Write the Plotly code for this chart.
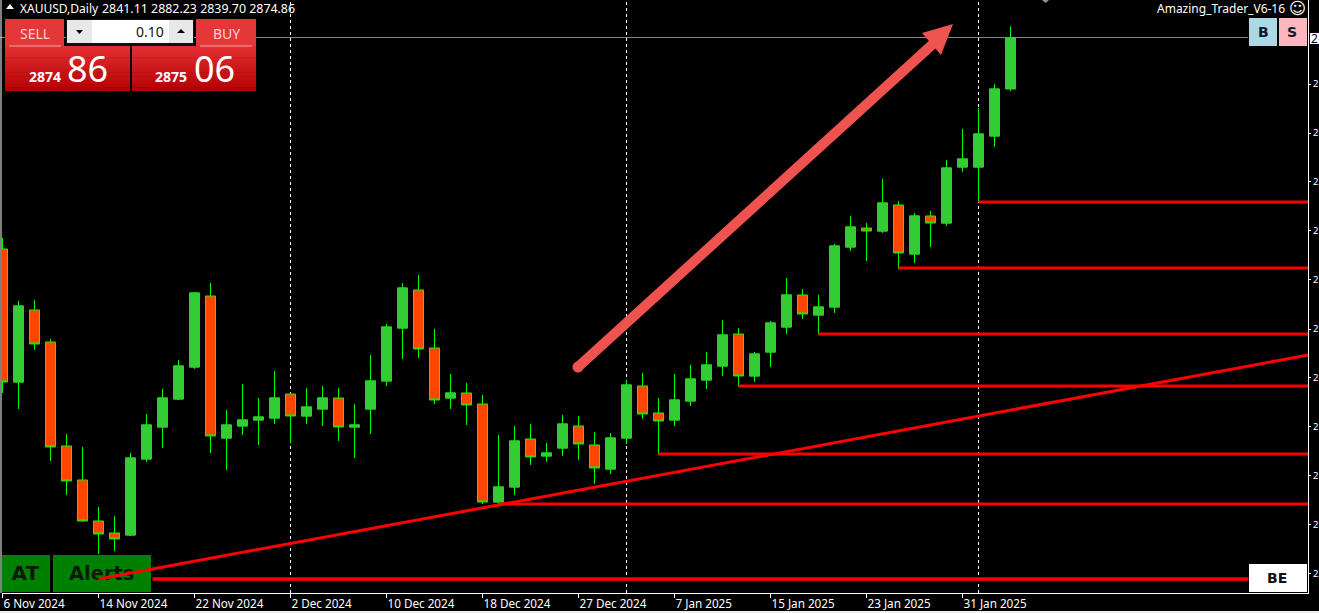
import plotly.graph_objects as go

date_labels = ["6 Nov 2024", "14 Nov 2024", "22 Nov 2024", "2 Dec 2024", "10 Dec 2024", "18 Dec 2024",
               "27 Dec 2024", "7 Jan 2025", "15 Jan 2025", "23 Jan 2025", "31 Jan 2025"]
label_bars = [0, 6, 12, 18, 24, 30, 36, 42, 48, 54, 60]
separator_bars = [18, 39, 61]

opens = [2735.69,2648.18,2695.56,2674.50,2606.07,2583.70,2556.72,2548.82,2547.51,2597.51,2618.57,2636.99,2658.05,2704.77,2611.33,2619.23,
         2623.18,2624.49,2640.28,2625.81,2630.41,2637.65,2618.57,2630.41,2648.84,2683.71,2708.72,2670.55,2637.65,2640.94,2633.70,2569.22,
         2579.09,2610.67,2599.49,2604.75,2619.23,2606.73,2590.93,2611.33,2645.55,2627.78,2623.18,2635.68,2649.50,2658.71,2679.76,2652.13,
         2667.92,2684.37,2705.43,2692.27,2697.53,2737.01,2749.51,2747.54,2764.65,2732.40,2757.41,2752.80,2789.65,2789.65,2810.05,2841.11]
highs = [2742.93,2701.48,2702.14,2676.47,2613.96,2605.41,2565.93,2560.01,2601.46,2627.12,2643.57,2662.66,2707.40,2713.32,2629.76,2646.86,
         2637.65,2655.42,2640.94,2644.23,2645.55,2644.23,2633.70,2665.95,2686.34,2713.32,2718.59,2683.05,2653.44,2647.52,2639.63,2613.31,
         2619.23,2620.54,2608.04,2626.47,2625.81,2615.28,2614.62,2649.50,2654.10,2637.65,2653.44,2659.37,2667.92,2688.98,2683.71,2667.92,
         2688.32,2716.61,2709.37,2705.43,2738.98,2757.41,2752.80,2781.75,2767.28,2759.38,2760.70,2794.26,2814.65,2828.47,2844.26,2882.23]
lows = [2640.94,2630.41,2669.24,2596.20,2573.83,2556.06,2535.00,2536.98,2546.85,2595.54,2604.75,2636.34,2656.73,2601.46,2590.28,2613.31,
        2606.73,2620.54,2608.04,2620.54,2619.23,2609.36,2598.17,2613.96,2645.55,2663.31,2663.97,2633.70,2630.41,2619.89,2567.90,2567.90,
        2573.83,2593.57,2595.54,2599.49,2596.86,2581.06,2587.64,2607.38,2623.83,2600.15,2619.23,2632.39,2643.57,2652.13,2644.89,2648.18,
        2658.05,2679.76,2689.63,2679.11,2693.58,2734.38,2727.80,2746.22,2722.53,2726.48,2737.01,2750.83,2786.36,2766.62,2802.81,2839.70]
closes = [2648.18,2698.19,2673.18,2605.41,2583.04,2556.72,2548.16,2544.87,2598.17,2619.89,2637.65,2658.71,2706.74,2612.65,2619.89,2623.18,
          2625.15,2637.65,2625.81,2631.73,2637.65,2618.57,2619.89,2648.84,2684.37,2710.03,2669.89,2636.34,2640.94,2633.05,2569.22,2579.09,
          2609.36,2598.83,2601.46,2620.54,2607.38,2591.59,2611.33,2646.21,2627.12,2622.52,2636.34,2650.15,2659.37,2679.11,2652.13,2666.60,
          2687.00,2705.43,2692.92,2697.53,2737.67,2750.17,2747.54,2765.96,2733.06,2757.41,2752.80,2788.99,2794.91,2811.36,2840.97,2874.86]

level_bars = [61, 56, 51, 46, 41, 31]
level_prices = [2766.62, 2723.19, 2679.76, 2645.55, 2600.80, 2567.90]
be_price = 2518.55
trend_bars = [6, 81.625]
trend_prices = [2518.55, 2665.95]
axis_prices = [2844.26, 2812.02, 2779.78, 2747.54, 2715.30, 2683.05, 2650.81, 2618.57, 2586.33, 2554.09, 2521.84]
last_price = 2874.86

bars = list(range(len(opens)))
W, H = 1319, 613
L, R, B = 2, 1308, 593
SANS = "Noto Sans"

def px(x):
    return (x - L) / (R - L)

def py(y):
    return 1 - y / B

shapes, notes = [], []

def rect(x0, y0, x1, y1, fill, line=None, layer="above", lw=1):
    shapes.append(dict(type="rect", xref="paper", yref="paper", x0=px(x0), x1=px(x1), y0=py(y0), y1=py(y1),
                       fillcolor=fill, layer=layer, line=dict(color=line or fill, width=lw if line else 0)))

def poly(points, fill, layer="above"):
    d = "M " + " L ".join(f"{px(a):.5f},{py(b):.5f}" for a, b in points) + " Z"
    shapes.append(dict(type="path", xref="paper", yref="paper", path=d, fillcolor=fill, layer=layer, line=dict(width=0)))

def text(x, y, s, size, color="white", anchor="center", family=SANS, bold=False):
    notes.append(dict(xref="paper", yref="paper", x=px(x), y=py(y), text=f"<b>{s}</b>" if bold else s, showarrow=False,
                      xanchor=anchor, yanchor="middle", font=dict(family=family, size=size, color=color),
                      borderpad=0, borderwidth=0))

def hline(x0, x1, y, color, width=1):
    shapes.append(dict(type="line", xref="paper", yref="paper", x0=px(x0), x1=px(x1), y0=py(y), y1=py(y),
                       layer="above", line=dict(color=color, width=width)))

# period separators, current price line, lower-left panels (under the candles)
for b in separator_bars:
    shapes.append(dict(type="line", xref="x", yref="paper", x0=b, x1=b, y0=0, y1=1, layer="below",
                       line=dict(color="white", width=1, dash="3px,3px")))
shapes.append(dict(type="line", xref="paper", yref="y", x0=px(0), x1=px(1248), y0=last_price, y1=last_price,
                   layer="below", line=dict(color="#7f8791", width=1)))
rect(2, 555, 50, 592, "#008000", layer="below")
rect(53, 555, 151, 592, "#008000", layer="below")

fig = go.Figure()
# full candles: wicks and outlines
fig.add_trace(go.Candlestick(x=bars, open=opens, high=highs, low=lows, close=closes,
                             increasing=dict(line=dict(color="#00FF00", width=1), fillcolor="#32CD32"),
                             decreasing=dict(line=dict(color="#00FF00", width=1), fillcolor="#FF4500"),
                             whiskerwidth=0, hoverinfo="skip", showlegend=False))
# rising bodies drawn again, without the bright outline
up_o = [o if c >= o else None for o, c in zip(opens, closes)]
up_c = [c if c >= o else None for o, c in zip(opens, closes)]
fig.add_trace(go.Candlestick(x=bars, open=up_o, high=up_c, low=up_o, close=up_c,
                             increasing=dict(line=dict(color="#32CD32", width=1), fillcolor="#32CD32"),
                             decreasing=dict(line=dict(color="#32CD32", width=1), fillcolor="#32CD32"),
                             whiskerwidth=0, hoverinfo="skip", showlegend=False))

# panel captions sit under the trend line
fig.add_trace(go.Scatter(x=[1.43], y=[be_price + 2.4], mode="text", text=["<b>AT</b>"],
                         textfont=dict(family="DejaVu Sans", size=20, color="#0a1a0a"),
                         hoverinfo="skip", showlegend=False))
fig.add_trace(go.Scatter(x=[6.2], y=[be_price + 2.4], mode="text", text=["<b>Alerts</b>"],
                         textfont=dict(family="DejaVu Sans", size=19.5, color="#0a1a0a"),
                         hoverinfo="skip", showlegend=False))

for b, p in zip(level_bars, level_prices):
    fig.add_trace(go.Scatter(x=[b, 81.625], y=[p, p], mode="lines", line=dict(color="#FF0000", width=3),
                             hoverinfo="skip", showlegend=False))
fig.add_trace(go.Scatter(x=[9.375, 77.875], y=[be_price, be_price], mode="lines", line=dict(color="#FF0000", width=3.5),
                         hoverinfo="skip", showlegend=False))
fig.add_trace(go.Scatter(x=trend_bars, y=trend_prices, mode="lines", line=dict(color="#FF0000", width=3),
                         hoverinfo="skip", showlegend=False))

# arrow
ARROW = "#EF5350"
shapes.append(dict(type="line", xref="paper", yref="paper", x0=px(578), y0=py(367), x1=px(934), y1=py(43),
                   layer="above", line=dict(color=ARROW, width=10)))
shapes.append(dict(type="circle", xref="paper", yref="paper", x0=px(572.5), x1=px(583.5), y0=py(361.5), y1=py(372.5),
                   layer="above", fillcolor=ARROW, line=dict(width=0)))
poly([(953, 24), (922, 33), (941, 55)], ARROW)

# header
poly([(6, 9), (14, 9), (10, 4)], "white")
text(20, 8.4, "XAUUSD,Daily", 12, anchor="left")
text(102, 8.6, "2841.11 2882.23 2839.70 2874.86", 12.4, anchor="left")
text(1285, 8.4, "Amazing_Trader_V6-16", 12, anchor="right")
text(1297, 8.5, "☺", 16.5, family="DejaVu Sans")
poly([(1042, 0), (1049, 0), (1045.5, 3)], "#8a94a6")

# trade panel
for side_top, side_low in (((5, 64), (5, 130)), ((196, 256), (132, 256))):
    rect(side_top[0], 19, side_top[1], 46, "#E43838")
    steps = 12
    for i in range(steps):
        c = (226 - 4 * i, 46 - 4 * i, 48 - 4 * i)
        rect(side_low[0], 46 + i * 45 / steps, side_low[1], min(91, 46 + (i + 1) * 45 / steps + 0.6),
             f"rgb({c[0]},{c[1]},{c[2]})")
hline(9, 61, 46, "#F7A0A0")
hline(200, 252, 46, "#F7A0A0")
rect(66, 19, 194, 46, "#111111")
rect(67, 20, 92, 43, "#E8E8E8")
rect(92, 20, 169, 43, "white")
rect(169, 20, 193, 43, "#E8E8E8")
poly([(76, 30), (83, 30), (79.5, 34)], "black")
poly([(177, 33), (185, 33), (181, 29)], "black")
text(164, 32, "0.10", 14, color="#101020", anchor="right")
text(34.5, 33, "SELL", 14, color="#FBD0D0")
text(226, 33, "BUY", 14, color="#FBD0D0")
text(45, 77, "2874", 14, bold=True)
text(87, 69, "86", 36)
text(170.5, 77, "2875", 14, bold=True)
text(214, 69, "06", 36)

# buttons on the right
rect(1249, 18, 1277, 46, "#ADD8E6")
rect(1279, 18, 1307, 46, "#FFB6C1")
text(1263, 32, "B", 14, color="#101828", family="DejaVu Sans", bold=True)
text(1292, 32, "S", 14, color="#101828", family="DejaVu Sans", bold=True)
rect(1249, 564, 1307, 592, "white")
text(1277, 578, "BE", 14, color="#101018", family="DejaVu Sans", bold=True)
rect(1310, 33, 1319, 44, "white")
text(1311, 38.5, "2", 12, color="black", anchor="left")

# frame
shapes.append(dict(type="line", xref="paper", yref="paper", x0=px(1), x1=px(1), y0=0, y1=1, layer="above",
                   line=dict(color="white", width=1)))
rect(0, 611, W, 613, "#F0F0F0")

fig.update_layout(
    width=W, height=H, autosize=False,
    margin=dict(l=L, r=W - R, t=0, b=H - B, pad=0),
    paper_bgcolor="black", plot_bgcolor="black",
    showlegend=False, hovermode=False, boxgap=0.375, boxgroupgap=0,
    shapes=shapes, annotations=notes,
    xaxis=dict(range=[-0.03125, (R - L) / 16 - 0.03125], tickmode="array", tickvals=label_bars, ticktext=date_labels, automargin=False,
               ticklabelposition="outside right", showgrid=False, zeroline=False, rangeslider=dict(visible=False),
               showline=True, linecolor="white", linewidth=1, ticks="outside", ticklen=4, tickcolor="white",
               tickfont=dict(family=SANS, size=11.7, color="white")),
    yaxis=dict(range=[2509.33, 2899.535], side="right", tickmode="array", tickvals=axis_prices, automargin=False,
               ticktext=["2"] * len(axis_prices), showgrid=False, zeroline=False,
               showline=True, linecolor="white", linewidth=1, ticks="outside", ticklen=2, tickcolor="white",
               tickfont=dict(family=SANS, size=9.5, color="white")),
)

fig.write_html("out.html", config=dict(displayModeBar=False), post_script="document.body.style.margin='0';document.body.style.background='black';")
